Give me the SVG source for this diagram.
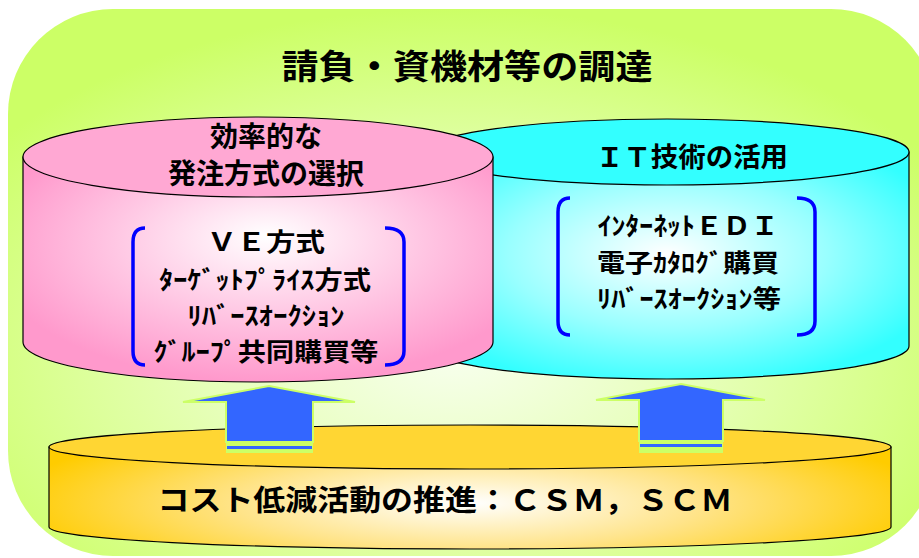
<svg xmlns="http://www.w3.org/2000/svg" width="919" height="558" viewBox="0 0 919 558">
<defs>
<radialGradient id="bgG" cx="0.48" cy="0.62" r="0.62">
<stop offset="0" stop-color="#F8FFF0"/>
<stop offset="0.45" stop-color="#E6FFB8"/>
<stop offset="1" stop-color="#CCFF66"/>
</radialGradient>
<radialGradient id="pinkG" cx="0.52" cy="0.4" r="0.6" fx="0.52" fy="0.35">
<stop offset="0" stop-color="#FFFFFF"/>
<stop offset="0.55" stop-color="#FFC6E3"/>
<stop offset="1" stop-color="#FF99CC"/>
</radialGradient>
<radialGradient id="cyanG" cx="0.5" cy="0.45" r="0.6">
<stop offset="0" stop-color="#FFFFFF"/>
<stop offset="0.55" stop-color="#99FFFF"/>
<stop offset="1" stop-color="#33FFFF"/>
</radialGradient>
<radialGradient id="yelG" cx="0.5" cy="0.55" r="0.55" gradientTransform="translate(0.5 0.55) scale(1 1.6) translate(-0.5 -0.55)">
<stop offset="0" stop-color="#FFFFFF"/>
<stop offset="0.5" stop-color="#FFE48A"/>
<stop offset="1" stop-color="#FFCC00"/>
</radialGradient>
<style>
.t{font-family:"Noto Sans CJK JP","Noto Sans CJK SC",sans-serif;font-weight:bold;fill:#000;text-anchor:middle}
.edge{stroke:#000;stroke-width:1.2}
.br{fill:none;stroke:#0000FF;stroke-width:3.5;stroke-linecap:butt}
.arr{fill:#3366FF;stroke:#CCFF66;stroke-width:2}
</style>
</defs>

<g id="background">
<rect x="8" y="9" width="928" height="547" rx="105" ry="105" fill="url(#bgG)"/>
<text class="t" x="467" y="79" font-size="34" textLength="371" lengthAdjust="spacingAndGlyphs">請負・資機材等の調達</text>
</g>

<g id="node-it">
<path class="edge" d="M425,152 V346 A242,33 0 0 0 909,346 V152 Z" fill="url(#cyanG)"/>
<ellipse class="edge" cx="667" cy="152" rx="242" ry="33" fill="#33FFFF"/>
<text class="t" x="692" y="167" font-size="27" textLength="192" lengthAdjust="spacingAndGlyphs">ＩＴ技術の活用</text>
<path class="br" d="M570,198 Q558,198 558,212 V321 Q558,335 570,335"/>
<path class="br" d="M797,198 Q815,198 815,212 V321 Q815,335 797,335"/>
<text class="t" x="688" y="235" font-size="25" textLength="181" lengthAdjust="spacingAndGlyphs">ｲﾝﾀｰﾈｯﾄＥＤＩ</text>
<text class="t" x="688" y="272" font-size="25" textLength="182" lengthAdjust="spacingAndGlyphs">電子ｶﾀﾛｸﾞ購買</text>
<text class="t" x="689" y="308" font-size="25" textLength="184" lengthAdjust="spacingAndGlyphs">ﾘﾊﾞｰｽｵｰｸｼｮﾝ等</text>
</g>

<g id="node-ordering">
<path class="edge" d="M23,157 V342 A235,40 0 0 0 493,342 V157 Z" fill="url(#pinkG)"/>
<ellipse class="edge" cx="258" cy="157" rx="235" ry="40" fill="#FFA8D3"/>
<text class="t" x="266" y="147" font-size="28">効率的な</text>
<text class="t" x="266" y="184" font-size="28" textLength="196" lengthAdjust="spacingAndGlyphs">発注方式の選択</text>
<path class="br" d="M145,228 Q133,228 133,242 V351 Q133,365 145,365"/>
<path class="br" d="M385,228 Q404,228 404,242 V351 Q404,365 385,365"/>
<text class="t" x="266" y="251" font-size="25" textLength="118" lengthAdjust="spacingAndGlyphs">ＶＥ方式</text>
<text class="t" x="265" y="289" font-size="25" textLength="212" lengthAdjust="spacingAndGlyphs">ﾀｰｹﾞｯﾄﾌﾟﾗｲｽ方式</text>
<text class="t" x="266" y="325" font-size="25" textLength="157" lengthAdjust="spacingAndGlyphs">ﾘﾊﾞｰｽｵｰｸｼｮﾝ</text>
<text class="t" x="266" y="361" font-size="25" textLength="225" lengthAdjust="spacingAndGlyphs">ｸﾞﾙｰﾌﾟ共同購買等</text>
</g>

<g id="node-cost">
<path class="edge" d="M49,447 V527 A421,22 0 0 0 891,527 V447 Z" fill="url(#yelG)"/>
<ellipse class="edge" cx="470" cy="447" rx="421" ry="22" fill="#FFD633"/>
<text class="t" x="445" y="511" font-size="29" textLength="575" lengthAdjust="spacingAndGlyphs">コスト低減活動の推進：ＣＳＭ，ＳＣＭ</text>
</g>

<g id="connectors">
<rect x="226" y="441" width="87" height="12" fill="#CCFF66"/>
<rect x="227" y="446" width="85" height="3" fill="#3366FF"/>
<polygon class="arr" points="269,386 355,402 313,402 313,442 226,442 226,402 183,402"/>
<rect x="639" y="440" width="84" height="13" fill="#CCFF66"/>
<rect x="640" y="444" width="82" height="3" fill="#3366FF"/>
<polygon class="arr" points="681,384 765,400 723,400 723,441 639,441 639,400 596,400"/>
</g>
</svg>
